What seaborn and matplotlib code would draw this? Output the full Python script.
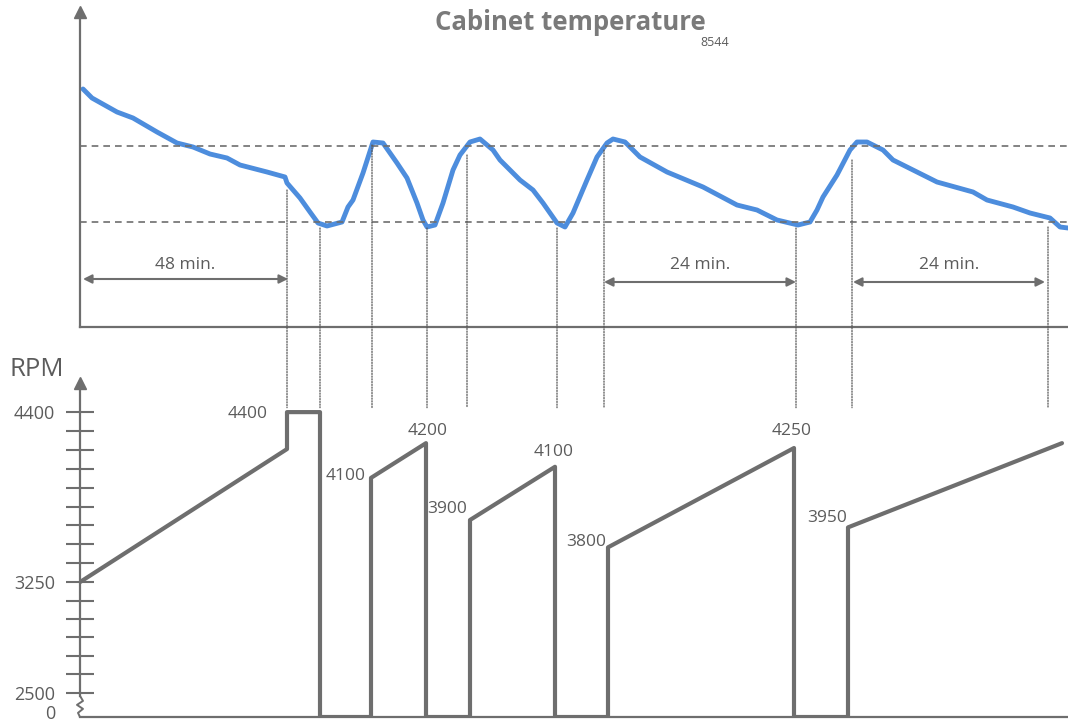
import numpy as np
import pandas as pd
import matplotlib.pyplot as plt
import matplotlib.transforms as mtransforms
import seaborn as sns
from matplotlib.patches import ConnectionPatch

# cabinet temperature trace (schematic units, t = position along time axis)
temp_t = [3, 12, 37, 53, 77, 97, 113, 130, 147, 160, 187, 205, 207, 220, 230, 238, 247, 262, 268, 273,
          283, 293, 303, 317, 327, 337, 343, 347, 355, 363, 373, 380, 390, 400, 413, 420, 440, 453, 463, 477,
          485, 493, 507, 517, 527, 533, 545, 560, 587, 623, 657, 677, 697, 718, 730, 737, 743, 757, 770, 777,
          787, 803, 813, 843, 857, 893, 907, 933, 950, 970, 980, 988]
temp_v = [238, 229, 215, 209, 195, 184, 180, 173, 169, 162, 155, 150, 144, 129, 115, 104, 101, 105, 120, 127,
          154, 185, 184, 164, 149, 124, 107, 100, 102, 124, 157, 172, 185, 188, 177, 167, 147, 137, 124, 104,
          100, 114, 147, 170, 184, 188, 185, 170, 155, 140, 122, 117, 107, 102, 105, 117, 130, 152, 177, 185,
          185, 177, 167, 152, 145, 135, 127, 120, 114, 109, 100, 99]
upper_limit = 181
lower_limit = 105

# compressor speed path (0 = compressor off)
rpm_t = [0, 207, 207, 240, 240, 291, 291, 346, 346, 390, 390, 475, 475, 528, 528, 714, 714, 768, 768, 982]
rpm_v = [3250, 4150, 4400, 4400, 0, 0, 3955, 4190, 0, 0, 3670, 4030, 0, 0, 3485, 4157, 0, 0, 3620, 4190]

# speed labels, attached to path vertices
label_idx = [2, 6, 7, 10, 11, 14, 15, 18]
label_txt = ["4400", "4100", "4200", "3900", "4100", "3800", "4250", "3950"]

# switching events (dotted guide lines)
event_t = [207, 240, 292, 347, 387, 477, 524, 716, 772, 968]
event_temp = [137, 99, 182, 99, 172, 99, 177, 99, 167, 100]

# time spans
span_start = [3, 524, 773]
span_end = [208, 716, 965]
span_txt = ["48 min.", "24 min.", "24 min."]

rpm_ticks_low = np.arange(2500, 3251, 125)
rpm_ticks_high = np.linspace(3250, 4400, 10)

sns.set_style("white")
plt.rcParams["font.family"] = ["Open Sans", "DejaVu Sans"]

GREY = "#6e6e6e"
TXT = "#5c5c5c"
BLUE = "#4d8ddd"
ZERO_POS = 2337  # where "0" sits below the axis break

W, H = 1068, 725
fig = plt.figure(figsize=(W / 100, H / 100), dpi=100)
ax_t = fig.add_axes([80 / W, 1 - 327 / H, 988 / W, 315 / H])
ax_r = fig.add_axes([80 / W, 1 - 717 / H, 988 / W, 334 / H])

# ---- top: temperature
df_temp = pd.DataFrame({"t": temp_t, "temp": temp_v})
sns.lineplot(data=df_temp, x="t", y="temp", ax=ax_t, color=BLUE, lw=3.5,
             sort=False, estimator=None)
ax_t.lines[-1].set_solid_capstyle("round")
ax_t.lines[-1].set_solid_joinstyle("round")
for lvl in [upper_limit, lower_limit]:
    ax_t.axhline(lvl, color=GREY, lw=1.2, ls=(0, (4, 3)))
ax_t.set_xlim(0, 988)
ax_t.set_ylim(0, 315)

for s, e, txt in zip(span_start, span_end, span_txt):
    y_arr = 48 if s < 100 else 45
    ax_t.annotate("", xy=(e, y_arr), xytext=(s, y_arr),
                  arrowprops=dict(arrowstyle="<|-|>", color=GREY, lw=1.5, mutation_scale=13,
                                  shrinkA=0, shrinkB=0))
    ax_t.text((s + e) / 2, 62, txt, ha="center", va="center", fontsize=12.5, color=TXT)

# ---- bottom: RPM
rpm_plot = [ZERO_POS if v == 0 else v for v in rpm_v]
df_rpm = pd.DataFrame({"t": rpm_t, "rpm": rpm_plot})
sns.lineplot(data=df_rpm, x="t", y="rpm", ax=ax_r, color=GREY, lw=3.0,
             sort=False, estimator=None)
ax_r.set_xlim(0, 988)
ax_r.set_ylim(ZERO_POS, 4597)

offsets = [(-14, -1, "right"), (-4, 1, "right"), (1, 9, "center"), (-2, 8, "right"),
           (-1, 11, "center"), (-1, 4, "right"), (-2, 12, "center"), (-1, 7, "right")]
for i, txt, (dx, dy, ha) in zip(label_idx, label_txt, offsets):
    ax_r.annotate(txt, xy=(rpm_t[i], rpm_plot[i]), xytext=(dx, dy), textcoords="offset points",
                  ha=ha, va="center", fontsize=12.5, color=TXT)

ticks = sorted(set(list(rpm_ticks_low) + list(np.round(rpm_ticks_high, 1))))
ax_r.set_yticks([ZERO_POS] + ticks)
lab = {2500: "2500", 3250: "3250", 4400: "4400"}
ax_r.set_yticklabels(["0"] + [lab.get(int(round(v)), "") for v in ticks])
ax_r.tick_params(axis="y", direction="inout", length=20, width=1.5, color=GREY,
                 labelsize=13, labelcolor=TXT, pad=8, left=True)
ax_r.yaxis.get_major_ticks()[0].tick1line.set_visible(False)
# nudge the "0" label up so it stays inside the figure
zero_lbl = ax_r.get_yticklabels()[0]
zero_lbl.set_transform(zero_lbl.get_transform() +
                       mtransforms.ScaledTranslation(0, 5 / 100, fig.dpi_scale_trans))
ax_r.set_xticks([])
ax_r.set_xlabel("")
ax_r.set_ylabel("")

# axes styling
for ax in [ax_t, ax_r]:
    for side in ["top", "right"]:
        ax.spines[side].set_visible(False)
    for side in ["left", "bottom"]:
        ax.spines[side].set_color(GREY)
        ax.spines[side].set_linewidth(1.6)
    ax.set_facecolor("none")
    ax.plot(0, 1, marker="^", color=GREY, markersize=9, transform=ax.transAxes, clip_on=False)
ax_t.set_xticks([])
ax_t.set_yticks([])
ax_t.set_xlabel("")
ax_t.set_ylabel("")

# axis break between 0 and 2500
ax_r.spines["left"].set_bounds(2480, 4597)
ax_r.plot([0, 3, -3, 3, -2, 0], [2480, 2446, 2419, 2392, 2365, ZERO_POS],
          color=GREY, lw=1.4, clip_on=False)

# dotted guides linking the two panels
for t, tv in zip(event_t, event_temp):
    con = ConnectionPatch(xyA=(t, tv), coordsA=ax_t.transData, xyB=(t, 4430), coordsB=ax_r.transData,
                          color="#555555", lw=0.9, ls=(0, (1, 1.2)))
    fig.add_artist(con)

fig.text(570 / W, 1 - 22 / H, "Cabinet temperature", ha="center", va="center",
         fontsize=18.5, fontweight="bold", color="#7a7a7a")
fig.text(715 / W, 1 - 43 / H, "8544", ha="center", va="center", fontsize=9, color=TXT)
fig.text(10 / W, 1 - 370 / H, "RPM", ha="left", va="center", fontsize=18.5, color=TXT)

fig.savefig("out.png", dpi=100, facecolor="white")
